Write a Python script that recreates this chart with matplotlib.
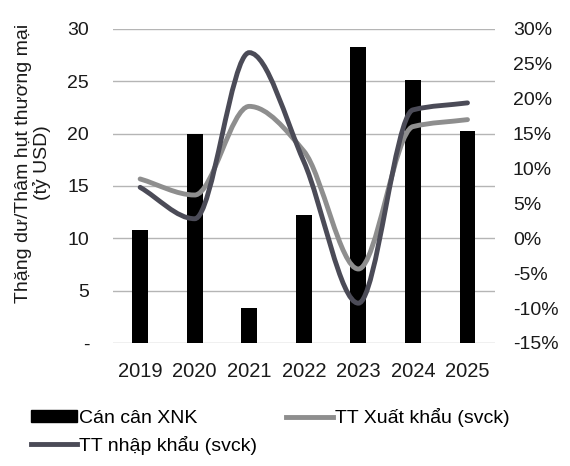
import matplotlib
matplotlib.use('Agg')
import matplotlib.pyplot as plt
import numpy as np
from matplotlib.path import Path
from matplotlib.patches import PathPatch, Patch
from matplotlib.lines import Line2D
from matplotlib.ticker import FuncFormatter

plt.rcParams['font.family'] = ['Liberation Sans', 'DejaVu Sans']

years = ['2019', '2020', '2021', '2022', '2023', '2024', '2025']
balance = [10.8, 20.0, 3.3, 12.2, 28.3, 25.1, 20.2]          # ty USD
export_growth = [8.5, 6.2, 18.9, 12.5, -4.4, 16.0, 17.0]      # %
import_growth = [7.3, 2.8, 26.6, 11.0, -9.3, 18.4, 19.4]      # %


def smooth_path(xs, ys):
    # smoothed line drawn as cubic beziers through every data point
    # (monotone tangents, so peaks/troughs sit on the data points)
    xs = np.asarray(xs, float)
    ys = np.asarray(ys, float)
    n = len(xs)
    d = np.diff(ys) / np.diff(xs)
    m = np.zeros(n)
    m[0], m[-1] = d[0], d[-1]
    for i in range(1, n - 1):
        if d[i - 1] * d[i] > 0:
            m[i] = 2.0 / (1.0 / d[i - 1] + 1.0 / d[i])
    verts = [(xs[0], ys[0])]
    codes = [Path.MOVETO]
    for i in range(n - 1):
        h = xs[i + 1] - xs[i]
        verts += [(xs[i] + h / 3, ys[i] + m[i] * h / 3),
                  (xs[i + 1] - h / 3, ys[i + 1] - m[i + 1] * h / 3),
                  (xs[i + 1], ys[i + 1])]
        codes += [Path.CURVE4] * 3
    return Path(verts, codes)


fig = plt.figure(figsize=(5.7, 4.66), dpi=100)
ax = fig.add_axes([0.198, 0.264, 0.670, 0.674])
x = np.arange(len(years))

ax.bar(x, balance, width=0.29, color='black', zorder=2)
ax.set_xlim(-0.5, len(years) - 0.5)
ax.set_ylim(0, 30)
ax.set_yticks(range(0, 31, 5))
ax.yaxis.set_major_formatter(FuncFormatter(lambda v, p: '-' if v == 0 else '%d' % v))
ax.set_xticks(x)
ax.set_xticklabels(years)
ax.grid(axis='y', color='#b5b5b5', linewidth=1.0, zorder=0)
ax.set_axisbelow(True)
for s in ax.spines.values():
    s.set_visible(False)
ax.tick_params(axis='y', length=0, pad=17, labelsize=14, colors='#1a1a1a')
ax.tick_params(axis='x', length=0, pad=14, labelsize=14.5, colors='#1a1a1a')

ax2 = ax.twinx()
ax2.set_ylim(-15, 30)
ax2.set_yticks(range(-15, 31, 5))
ax2.yaxis.set_major_formatter(FuncFormatter(lambda v, p: '%d%%' % v))
for s in ax2.spines.values():
    s.set_visible(False)
ax2.tick_params(axis='y', length=0, pad=13, labelsize=14, colors='#1a1a1a')

exp_color = '#8e8e8e'
imp_color = '#4b4b57'
ax2.add_patch(PathPatch(smooth_path(x, export_growth), facecolor='none',
                        edgecolor=exp_color, linewidth=3.5, capstyle='round', zorder=3))
ax2.add_patch(PathPatch(smooth_path(x, import_growth), facecolor='none',
                        edgecolor=imp_color, linewidth=3.5, capstyle='round', zorder=3))

fig.text(0.058, 1 - 163 / 466, 'Thặng dư/Thâm hụt thương mại\n(tỷ USD)', rotation=90,
         ha='center', va='center', multialignment='center', fontsize=14, color='#1a1a1a',
         linespacing=1.05)

handles = [Patch(facecolor='black', edgecolor='black'),
           Line2D([], [], color=imp_color, linewidth=3.5),
           Line2D([], [], color=exp_color, linewidth=3.5)]
labels = ['Cán cân XNK', 'TT nhập khẩu (svck)', 'TT Xuất khẩu (svck)']
fig.legend(handles, labels, loc='lower left', bbox_to_anchor=(0.03, -0.005), ncol=2,
           frameon=False, fontsize=14, handlelength=2.4, handleheight=0.55,
           handletextpad=0.1, columnspacing=1.5, labelspacing=0.45, borderpad=0.2)

plt.savefig('out.png', dpi=100)
